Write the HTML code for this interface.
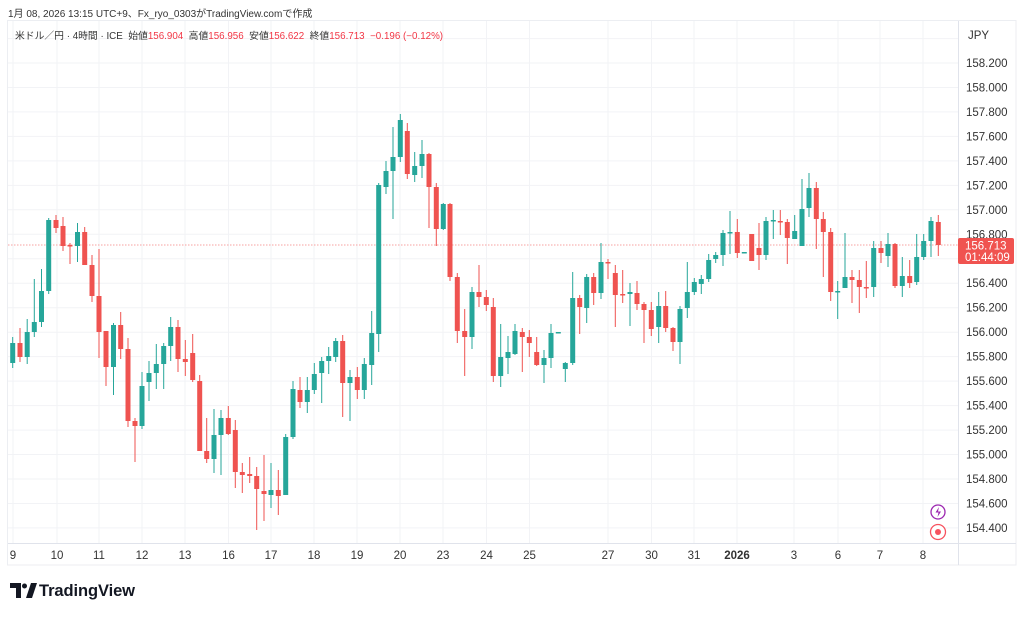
<!DOCTYPE html>
<html><head><meta charset="utf-8"><style>
body{margin:0;background:#fff;width:1024px;height:613px;overflow:hidden;font-family:"Liberation Sans","Noto Sans CJK JP",sans-serif}
</style></head><body>
<svg width="1024" height="613" viewBox="0 0 1024 613" xmlns="http://www.w3.org/2000/svg" font-family="Liberation Sans, Noto Sans CJK JP, sans-serif">
<rect width="1024" height="613" fill="#fff"/>
<text x="8" y="17" font-size="10" fill="#333">1月 08, 2026 13:15 UTC+9、Fx_ryo_0303がTradingView.comで作成</text>
<rect x="7.5" y="20.5" width="1008.5" height="544.5" fill="none" stroke="#eceef2"/>
<g stroke="#f2f3f6" stroke-width="1">
<path d="M8 38.6H958M8 63H958M8 87.5H958M8 111.9H958M8 136.4H958M8 160.9H958M8 185.4H958M8 209.8H958M8 234.3H958M8 258.8H958M8 283.2H958M8 307.7H958M8 332.2H958M8 356.6H958M8 381.1H958M8 405.6H958M8 430.1H958M8 454.5H958M8 479H958M8 503.5H958M8 527.9H958"/>
<path d="M13 21V543M57 21V543M99 21V543M142 21V543M185 21V543M228.5 21V543M271 21V543M314 21V543M357 21V543M400 21V543M443 21V543M486.5 21V543M529.5 21V543M608 21V543M651.5 21V543M694 21V543M737 21V543M794 21V543M838 21V543M880 21V543M923 21V543"/>
</g>
<path d="M958.5 21V565M8 543.5H1016" stroke="#e0e3eb"/>
<text x="15" y="39" font-size="9.8" fill="#333">米ドル／円 · 4時間 · ICE&#160; 始値<tspan fill="#f23645">156.904</tspan>&#160; 高値<tspan fill="#f23645">156.956</tspan>&#160; 安値<tspan fill="#f23645">156.622</tspan>&#160; 終値<tspan fill="#f23645">156.713&#160; −0.196 (−0.12%)</tspan></text>
<line x1="8" y1="245" x2="958" y2="245" stroke="#f7a1a0" stroke-dasharray="1.5,1.5"/>
<svg x="8" y="21" width="950" height="522" viewBox="8 21 950 522">
<path fill="none" stroke="#26a69a" d="M5.5 363V378M12.7 337V368M27.2 319V364M34.3 279V337M41.5 269V327M48.7 218V294M77.5 223V262M113.5 323V395M142 372V429M149 361V401M156.3 344V389M163.7 343V389M170.7 317V361M214 409V473M221 410V475M271 463V508M285.7 434V495M293 381V439M307.3 377V413M314.3 363V394M321.7 357V403M328.7 347V374M335.7 338V362M350 370V421M364.3 358V399M371.7 311V385M378.7 183V352M386 161V194M393 127V219M400.3 114V162M414.7 152V182M422 140V178M443.3 203V230M472 287V349M500.7 324V387M508 336V374M515 324V355M544 350V383M551 324V368M565.3 362V382M572.7 272V365M586.7 274V323M601 243V299M630 283V326M658.7 292V343M680 306V364M687.3 262V318M694.3 278V295M701.3 275V294M708.7 254V282M715.7 252V263M723 230V266M730 211V254M766 217V260M773.3 210V239M794.7 215V239M802 179V246M809 173V217M837.7 281V319M845 233V288M873.7 241V297M888 233V267M902.3 257V297M916.7 234V285M923.7 234V260M931 217V257"/>
<path fill="#26a69a" d="M3 365h5v5h-5zM10.2 343h5v20h-5zM24.7 332h5v25h-5zM31.8 322h5v10h-5zM39 291h5v31h-5zM46.2 220h5v71h-5zM75 232h5v14h-5zM111 325h5v42h-5zM139.5 386h5v40h-5zM146.5 373h5v9h-5zM153.8 364h5v9h-5zM161.2 346h5v18h-5zM168.2 327h5v19h-5zM211.5 435h5v24h-5zM218.5 418h5v17h-5zM268.5 490h5v5h-5zM283.2 437h5v58h-5zM290.5 389h5v48h-5zM304.8 390h5v12h-5zM311.8 374h5v16h-5zM319.2 361h5v12h-5zM326.2 356h5v5h-5zM333.2 341h5v16h-5zM347.5 377h5v6h-5zM361.8 364h5v26h-5zM369.2 333h5v32h-5zM376.2 185h5v149h-5zM383.5 171h5v16h-5zM390.5 157h5v14h-5zM397.8 120h5v37h-5zM412.2 166h5v9h-5zM419.5 154h5v12h-5zM440.8 204h5v25h-5zM469.5 292h5v45h-5zM498.2 357h5v19h-5zM505.5 352h5v6h-5zM512.5 331h5v23h-5zM541.5 358h5v7h-5zM548.5 333h5v25h-5zM555.8 332h5v1.5h-5zM562.8 363h5v6h-5zM570.2 298h5v65h-5zM584.2 277h5v31h-5zM598.5 262h5v31h-5zM627.5 292h5v2h-5zM656.2 306h5v21h-5zM677.5 309h5v33h-5zM684.8 292h5v16h-5zM691.8 282h5v10h-5zM698.8 279h5v5h-5zM706.2 260h5v19h-5zM713.2 255h5v4h-5zM720.5 233h5v22h-5zM727.5 232h5v1.5h-5zM741.8 252h5v1.5h-5zM763.5 221h5v34h-5zM770.8 220h5v1.5h-5zM792.2 231h5v8h-5zM799.5 209h5v37h-5zM806.5 188h5v20h-5zM835.2 291h5v1.5h-5zM842.5 277h5v11h-5zM871.2 248h5v39h-5zM885.5 244h5v12h-5zM899.8 276h5v10h-5zM914.2 257h5v25h-5zM921.2 241h5v16h-5zM928.5 221h5v20h-5z"/>
<path fill="none" stroke="#ef5350" d="M20 328V362M56 215V233M63 217V251M70 243V264M84.7 227V265M92 255V302M99 249V358M106 331V386M120.7 312V359M128 338V427M135 418V462M178 320V372M185.3 340V376M192.7 334V382M199.7 375V451M206.7 418V463M228.3 406V435M235.3 420V488M242.3 463V493M249.7 457V483M256.7 467V530M264 455V521M278.3 470V515M300 377V408M342.7 335V417M357.3 367V399M407.3 123V179M429 153V228M436.3 183V246M450 203V281M457.3 273V343M464.7 309V376M479 265V307M486.3 290V311M493.3 298V382M522.3 328V372M529.3 330V357M536.7 337V366M579.7 295V334M593.7 273V305M608 259V279M615.3 265V327M622.7 270V303M637 281V310M644 302V343M651.3 302V336M665.7 291V332M673 327V351M737.3 219V258M751.7 234V261M759 223V270M780.3 210V235M787.3 219V264M816.3 182V249M823.3 212V277M830.7 228V301M852 270V303M859.3 270V313M866.3 261V298M881 241V263M895 243V288M909.7 260V288M938.3 215V256"/>
<path fill="#ef5350" d="M17.5 343h5v14h-5zM53.5 220h5v8h-5zM60.5 226h5v20h-5zM67.5 245h5v1.5h-5zM82.2 232h5v33h-5zM89.5 265h5v31h-5zM96.5 296h5v36h-5zM103.5 331h5v36h-5zM118.2 325h5v24h-5zM125.5 349h5v72h-5zM132.5 421h5v5h-5zM175.5 327h5v32h-5zM182.8 359h5v3h-5zM190.2 353h5v27h-5zM197.2 381h5v70h-5zM204.2 451h5v8h-5zM225.8 418h5v16h-5zM232.8 430h5v42h-5zM239.8 472h5v3h-5zM247.2 474h5v2h-5zM254.2 476h5v13h-5zM261.5 491h5v3h-5zM275.8 490h5v6h-5zM297.5 390h5v12h-5zM340.2 341h5v42h-5zM354.8 377h5v13h-5zM404.8 131h5v43h-5zM426.5 154h5v33h-5zM433.8 187h5v42h-5zM447.5 204h5v73h-5zM454.8 277h5v54h-5zM462.2 331h5v6h-5zM476.5 292h5v5h-5zM483.8 297h5v8h-5zM490.8 307h5v69h-5zM519.8 332h5v5h-5zM526.8 337h5v6h-5zM534.2 352h5v13h-5zM577.2 298h5v9h-5zM591.2 277h5v16h-5zM605.5 262h5v1.5h-5zM612.8 273h5v22h-5zM620.2 294h5v1.5h-5zM634.5 293h5v11h-5zM641.5 304h5v6h-5zM648.8 310h5v19h-5zM663.2 306h5v22h-5zM670.5 328h5v14h-5zM734.8 232h5v21h-5zM749.2 234h5v27h-5zM756.5 248h5v7h-5zM777.8 221h5v1.5h-5zM784.8 222h5v16h-5zM813.8 188h5v31h-5zM820.8 219h5v13h-5zM828.2 232h5v60h-5zM849.5 277h5v3h-5zM856.8 280h5v7h-5zM863.8 287h5v1.5h-5zM878.5 248h5v5h-5zM892.5 244h5v42h-5zM907.2 276h5v7h-5zM935.8 222h5v23h-5z"/>
</svg>
<g font-size="11.5" fill="#333">
<text x="968" y="39">JPY</text>
<text x="966" y="67">158.200</text><text x="966" y="91.5">158.000</text><text x="966" y="116">157.800</text><text x="966" y="140.5">157.600</text><text x="966" y="165">157.400</text><text x="966" y="189.5">157.200</text><text x="966" y="214">157.000</text><text x="966" y="238.5">156.800</text><text x="966" y="287">156.400</text><text x="966" y="311.5">156.200</text><text x="966" y="336">156.000</text><text x="966" y="360.5">155.800</text><text x="966" y="385">155.600</text><text x="966" y="409.5">155.400</text><text x="966" y="434">155.200</text><text x="966" y="458.5">155.000</text><text x="966" y="483">154.800</text><text x="966" y="507.5">154.600</text><text x="966" y="532">154.400</text>
</g>
<rect x="958" y="238" width="56" height="26" rx="2" fill="#f05350"/>
<text x="965" y="249.5" font-size="11.5" fill="#fff">156.713</text>
<text x="965" y="261" font-size="11.5" fill="#fff">01:44:09</text>
<g font-size="11.5" fill="#333" text-anchor="middle">
<text x="13" y="559">9</text><text x="57" y="559">10</text><text x="99" y="559">11</text><text x="142" y="559">12</text><text x="185" y="559">13</text><text x="228.5" y="559">16</text><text x="271" y="559">17</text><text x="314" y="559">18</text><text x="357" y="559">19</text><text x="400" y="559">20</text><text x="443" y="559">23</text><text x="486.5" y="559">24</text><text x="529.5" y="559">25</text><text x="608" y="559">27</text><text x="651.5" y="559">30</text><text x="694" y="559">31</text><text x="737" y="559" font-weight="bold">2026</text><text x="794" y="559">3</text><text x="838" y="559">6</text><text x="880" y="559">7</text><text x="923" y="559">8</text>
</g>
<circle cx="938" cy="512" r="7" fill="#fff" stroke="#9c27b0" stroke-width="1.3"/>
<path d="M939 507l-3.5 5.5h3l-1 4.5 3.5-5.5h-3z" fill="#9c27b0"/>
<circle cx="938" cy="532" r="7.5" fill="#fff" stroke="#f7525f" stroke-width="1.3"/>
<circle cx="938" cy="532" r="3" fill="#f7525f"/>
<path d="M10 583h11v15h-5v-10h-6z" fill="#131722"/>
<circle cx="24.5" cy="586" r="2.5" fill="#131722"/>
<path d="M26 598l5-15h6l-5 15z" fill="#131722"/>
<text x="39" y="596" font-size="16.5" font-weight="bold" fill="#131722" textLength="96">TradingView</text>
</svg>
</body></html>
